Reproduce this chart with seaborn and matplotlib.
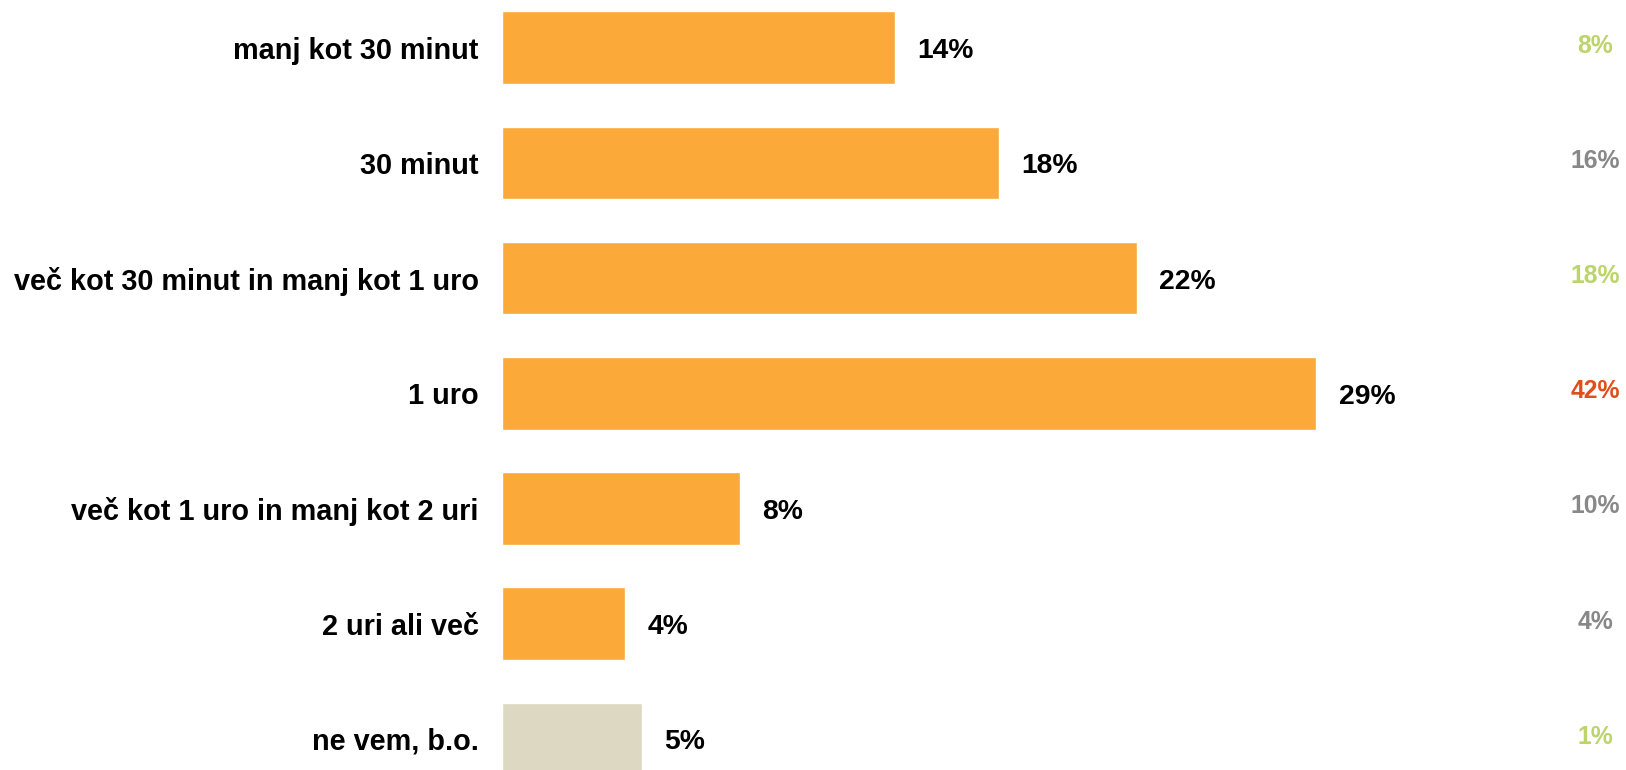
import matplotlib
matplotlib.use("Agg")
import matplotlib.pyplot as plt
import matplotlib.transforms as mtransforms
import seaborn as sns
import pandas as pd

# ---- data ----
categories = [
    "manj kot 30 minut",
    "30 minut",
    "več kot 30 minut in manj kot 1 uro",
    "1 uro",
    "več kot 1 uro in manj kot 2 uri",
    "2 uri ali več",
    "ne vem, b.o.",
]
bar_values = [14.0, 17.7, 22.6, 29.0, 8.5, 4.4, 5.0]      # bar lengths (%)
value_labels = ["14%", "18%", "22%", "29%", "8%", "4%", "5%"]
current_pct = [14, 18, 22, 29, 8, 4, 5]
previous_pct = [8, 16, 18, 42, 10, 4, 1]

# ---- styles ----
ORANGE = "#FBAA3A"
BEIGE = "#DDD8C1"
GREEN = "#BCD46C"
GREY = "#888888"
RED = "#E04E1D"
bar_colors = [ORANGE] * 6 + [BEIGE]


def compare_color(cur, prev):
    d = cur - prev
    if d >= 3:
        return GREEN
    if d <= -3:
        return RED
    return GREY


sns.set_theme(style="white")
plt.rcParams["font.family"] = ["Liberation Sans", "DejaVu Sans"]
plt.rcParams["font.weight"] = "bold"

W, H = 1626, 770
fig = plt.figure(figsize=(W / 100, H / 100), dpi=100)
left_px = 501.5
ax = fig.add_axes([left_px / W, 0, 1 - left_px / W, 1])

df = pd.DataFrame({"cat": categories, "val": bar_values})
sns.barplot(data=df, x="val", y="cat", hue="cat", palette=bar_colors,
            legend=False, width=0.63, orient="h", ax=ax, saturation=1)

px_per_unit = 28.1
ax.set_xlim(0, (W - left_px) / px_per_unit)
pitch = 115.2
first_center = 47.7
ax.set_ylim(6 + (H - (first_center + 6 * pitch)) / pitch, -first_center / pitch)

for s in ax.spines.values():
    s.set_visible(False)
ax.set_xticks([])
ax.set_xlabel("")
ax.set_ylabel("")
ax.tick_params(axis="y", length=0, pad=16.5)
ax.set_yticks(range(len(categories)))
ax.set_yticklabels(categories, fontsize=20.8, fontweight="bold", color="black")

for i, (v, lab) in enumerate(zip(bar_values, value_labels)):
    ax.annotate(lab, xy=(v, i), xytext=(16, -2.5), textcoords="offset points",
                ha="left", va="center", fontsize=20.3, fontweight="bold", color="black")

trans = mtransforms.blended_transform_factory(fig.transFigure, ax.transData)
off = mtransforms.offset_copy(trans, fig=fig, x=0, y=1.5, units="points")
for i, (c, p) in enumerate(zip(current_pct, previous_pct)):
    ax.text(1595 / W, i, f"{p}%", transform=off, ha="center", va="center",
            fontsize=17.8, fontweight="bold", color=compare_color(c, p), clip_on=False)

fig.savefig("out.png", dpi=100, facecolor="white")
